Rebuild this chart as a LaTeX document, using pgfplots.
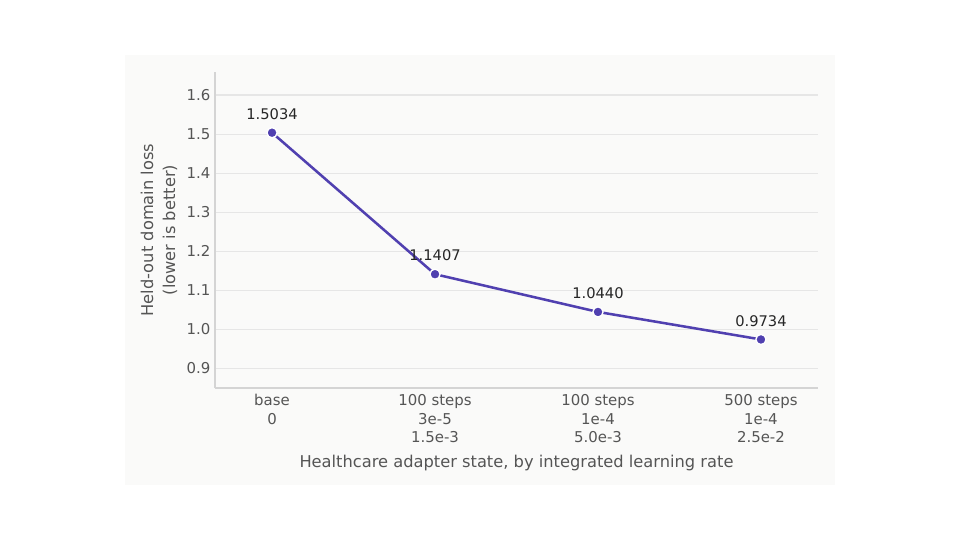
\documentclass[border=0pt]{standalone}
\usepackage{pgfplots}
\pgfplotsset{compat=1.18}
\usepackage{fontspec}
\setmainfont{DejaVu Sans}

\definecolor{panel}{HTML}{FAFAF9}
\definecolor{gridc}{HTML}{E6E6E6}
\definecolor{spinec}{HTML}{D4D4D4}
\definecolor{textc}{HTML}{555555}
\definecolor{linec}{HTML}{5040B0}

\begin{document}
\begin{tikzpicture}[x=1pt,y=1pt]
    % page 960x540 px, 1 px = 0.75 pt
    \fill[white] (0,0) rectangle (720,405);
    \fill[panel] (93.75,41.25) rectangle (626.25,363.75);
    \begin{axis}[
        at={(161.25pt,114pt)}, anchor=south west,
        scale only axis,
        width=452.25pt, height=237pt,
        xmin=-0.35, xmax=3.35,
        ymin=0.849, ymax=1.659,
        axis lines*=left,
        axis line style={spinec, line width=0.8pt},
        xtick={0,1,2,3},
        xticklabels={base\\0, 100 steps\\3e-5\\1.5e-3, 100 steps\\1e-4\\5.0e-3, 500 steps\\1e-4\\2.5e-2},
        xticklabel style={align=center, anchor=north, text=textc, font=\fontsize{11.2}{14}\selectfont, yshift=-1.2pt},
        ytick={0.9,1.0,...,1.6},
        yticklabel style={text=textc, font=\fontsize{11.2}{13}\selectfont},
        /pgf/number format/assume math mode=true,
        /pgf/number format/fixed,
        /pgf/number format/fixed zerofill,
        /pgf/number format/precision=1,
        major tick length=0pt,
        xtick style={draw=none}, ytick style={draw=none},
        ymajorgrids,
        grid style={gridc, line width=0.8pt},
        xlabel={Healthcare adapter state, by integrated learning rate},
        ylabel={Held-out domain loss\\(lower is better)},
        ylabel style={align=center, text=textc, font=\fontsize{12.2}{16.5}\selectfont},
        xlabel style={text=textc, font=\fontsize{12.2}{14}\selectfont, yshift=-2.5pt},
        clip=false,
        nodes near coords,
        point meta=explicit symbolic,
        nodes near coords style={font=\fontsize{11}{13}\selectfont, text=black!85, anchor=south, yshift=6pt},
    ]
        \addplot[linec, line width=1.9pt, mark=*, mark size=3.8pt,
                 mark options={fill=linec, draw=white, line width=1pt}]
            coordinates {(0,1.5034)[1.5034] (1,1.1407)[1.1407] (2,1.0440)[1.0440] (3,0.9734)[0.9734]};
    \end{axis}
\end{tikzpicture}
\end{document}
